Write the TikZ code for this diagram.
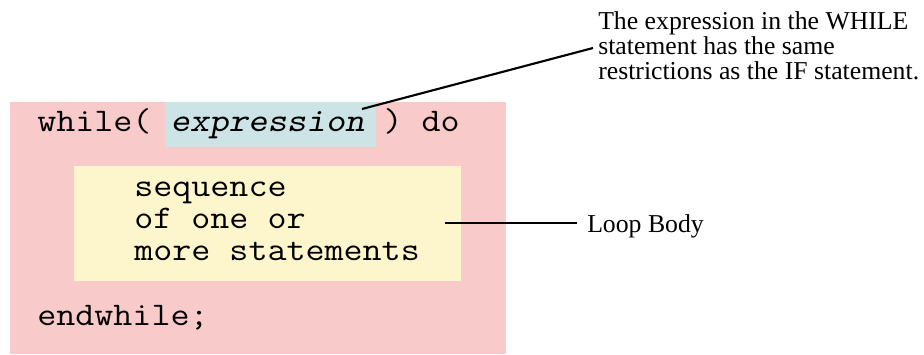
\documentclass[tikz,border=0pt]{standalone}
\usepackage{fontspec}
\setmainfont{Liberation Serif}
\usetikzlibrary{fit}
\definecolor{pinkbg}{RGB}{249,202,202}
\definecolor{bluebg}{RGB}{205,228,230}
\definecolor{yellowbg}{RGB}{253,246,204}
\begin{document}
\begin{tikzpicture}[x=0.75pt,y=-0.75pt,
  box/.style={inner sep=0pt, draw=none},
  code/.style={font=\fontsize{24.75}{24}\selectfont\ttfamily, xscale=1.12, transform shape, inner sep=0pt, anchor=base west, text height=14pt, text depth=4pt},
  note/.style={font=\fontsize{19.3}{20}\selectfont, inner sep=0pt, anchor=base west, text height=12pt, text depth=3.5pt},
  leader/.style={line width=1.6pt, black}]
\useasboundingbox (0,0) rectangle (924,354);
\node[box, fill=pinkbg, fit={(10,102)(506,354)}] (frame) {};
\node[box, fill=bluebg, fit={(165,102)(376,147)}] (exprbox) {};
\node[box, fill=yellowbg, fit={(74,166)(461,281)}] (bodybox) {};
\node[code] (l1) at (37,131.5) {while( \textsl{expression} ) do};
\node[code] (b1) at (134,196.7) {sequence};
\node[code] (b2) at (134,228.4) {of one or};
\node[code] (b3) at (134,260) {more statements};
\node[code] (l5) at (37,325) {endwhile;};
\node[note] (n1) at (598,29) {The expression in the WHILE};
\node[note] (n2) at (598,54) {statement has the same};
\node[note] (n3) at (598,79) {restrictions as the IF statement.};
\node[note] (lb) at (587,232) {Loop Body};
\coordinate (exprend) at (362,109);
\coordinate (noteend) at (593,48);
\coordinate (bodyend) at (445,223);
\coordinate (lbend) at (577,223);
\draw[leader] (exprend) -- (noteend);
\draw[leader] (bodyend) -- (lbend);
\end{tikzpicture}
\end{document}
